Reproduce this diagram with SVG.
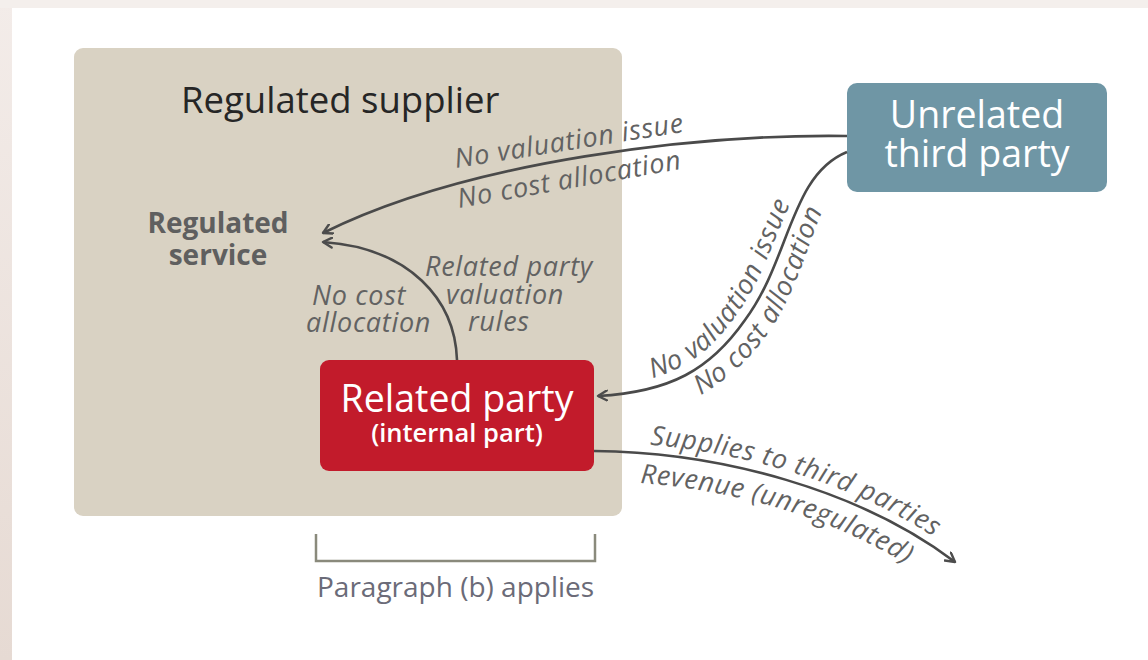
<svg xmlns="http://www.w3.org/2000/svg" width="1148" height="660" viewBox="0 0 1148 660">
<defs>
<linearGradient id="strip" x1="0" y1="0" x2="0" y2="1"><stop offset="0" stop-color="#f3ece9"/><stop offset="1" stop-color="#e6dad3"/></linearGradient>
<marker id="arr" viewBox="0 0 12 12" refX="10" refY="6" markerWidth="12" markerHeight="12" markerUnits="userSpaceOnUse" orient="auto"><path d="M1,1 L10,6 L1,11" fill="none" stroke="#4d4d4d" stroke-width="2.4" stroke-linecap="round" stroke-linejoin="round"/></marker>
<path id="p3up" d="M597,386 C668,382 703,363 737,314 C780,257 786,166 843,143"/>
<path id="p3dn" d="M600,422 C675,418 728,388 766,336 C815,268 813,185 857,176"/>
<path id="p4up" d="M594,442 C722,443 862,481 960,555"/>
<path id="p4dn" d="M594,481 C720,482 852,519 937,586"/>
</defs>
<style>
.lbl{font-family:"Open Sans",sans-serif;font-style:italic;font-size:27px;letter-spacing:0.7px;fill:#626262}
.conn{fill:none;stroke:#4a4a4a;stroke-width:2.6;marker-end:url(#arr)}
</style>
<rect width="1148" height="660" fill="#ffffff"/>
<rect x="0" y="0" width="12" height="660" fill="url(#strip)"/>
<rect x="0" y="0" width="1148" height="8" fill="#f4efec"/>

<g id="regulated-supplier">
<rect x="74" y="48" width="548" height="468" rx="9" fill="#d9d2c3"/>
<text x="181" y="113" font-family="Open Sans,sans-serif" font-size="36.5" fill="#262626">Regulated supplier</text>
</g>
<g id="regulated-service">
<text x="218" y="233" text-anchor="middle" font-family="Open Sans,sans-serif" font-weight="bold" font-size="28" fill="#5f5f5f">Regulated</text>
<text x="218" y="265" text-anchor="middle" font-family="Open Sans,sans-serif" font-weight="bold" font-size="28" fill="#5f5f5f">service</text>
</g>
<g id="unrelated-third-party">
<rect x="847" y="83" width="260" height="109" rx="10" fill="#6f96a5"/>
<text x="977" y="128" text-anchor="middle" font-family="Open Sans,sans-serif" font-size="37.5" fill="#ffffff">Unrelated</text>
<text x="977" y="167" text-anchor="middle" font-family="Open Sans,sans-serif" font-size="37.5" fill="#ffffff">third party</text>
</g>
<g id="related-party">
<rect x="320" y="360" width="274" height="111" rx="9" fill="#c21b2b"/>
<text x="457" y="412" text-anchor="middle" font-family="Open Sans,sans-serif" font-size="37.5" fill="#ffffff">Related party</text>
<text x="457" y="442" text-anchor="middle" font-family="Open Sans,sans-serif" font-weight="600" font-size="25.5" fill="#ffffff">(internal part)</text>
</g>
<g id="paragraph-b">
<path d="M316,534 V561 H595 V534" fill="none" stroke="#8a8a7c" stroke-width="2.5"/>
<text x="317" y="597" font-family="Open Sans,sans-serif" font-size="28" fill="#6b6b78">Paragraph (b) applies</text>
</g>

<g id="connectors">
<path class="conn" d="M847,136 C700,134 470,160 323,233"/>
<path class="conn" d="M457,360 C455,300 410,248 323,242"/>
<path class="conn" d="M847,152 C790,175 790,260 745,320 C710,370 670,392 598,396"/>
<path class="conn" d="M594,451 C720,452 860,490 955,562"/>
</g>

<g id="labels">
<text class="lbl" transform="translate(456,168) rotate(-9)">No valuation issue</text>
<text class="lbl" transform="translate(459,208) rotate(-10)">No cost allocation</text>
<text class="lbl" x="312" y="305">No cost</text>
<text class="lbl" x="306" y="332">allocation</text>
<text class="lbl" x="425" y="276">Related party</text>
<text class="lbl" x="446" y="304">valuation</text>
<text class="lbl" x="468" y="331">rules</text>
<text class="lbl"><textPath href="#p3up" startOffset="56">No valuation issue</textPath></text>
<text class="lbl"><textPath href="#p3dn" startOffset="105">No cost allocation</textPath></text>
<text class="lbl"><textPath href="#p4up" startOffset="56">Supplies to third parties</textPath></text>
<text class="lbl"><textPath href="#p4dn" startOffset="46">Revenue (unregulated)</textPath></text>
</g>
</svg>
